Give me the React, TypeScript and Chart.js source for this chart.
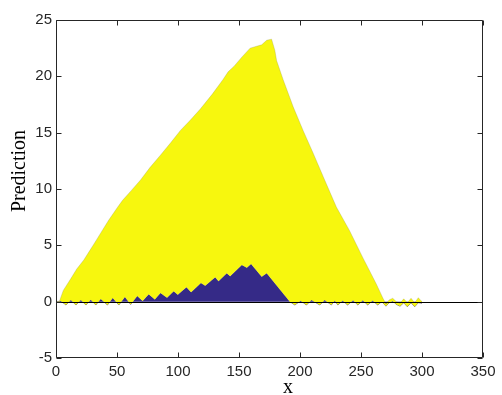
import React, { useEffect, useRef } from "react";
import { Chart, registerables } from "chart.js";

Chart.register(...registerables);

// Upper boundary of the yellow area (total)
const yellowX = [0, 2.7, 6, 12.2, 17, 22.8, 26.9, 31, 36.7, 43, 50.6, 54.6, 62, 69.3, 77, 85.6, 94, 102, 110, 118.3, 128, 136.8, 141.1, 146, 152.3, 159.1, 168.6, 172.7, 176.7, 179.4, 180.8, 186.2, 194.4, 202.5, 210.7, 220.2, 229.8, 240.6, 251.5, 262.4, 268, 270.5, 273, 276, 279, 282, 285, 288, 291, 294, 297, 299, 300];
const yellowY = [0, 0, 1.0, 2.05, 2.9, 3.7, 4.4, 5.1, 6.1, 7.2, 8.4, 9.0, 9.9, 10.8, 11.9, 13.0, 14.1, 15.2, 16.1, 17.1, 18.4, 19.7, 20.4, 20.9, 21.7, 22.5, 22.8, 23.2, 23.3, 22.3, 21.4, 19.7, 17.3, 15.2, 13.2, 10.8, 8.4, 6.3, 3.9, 1.6, 0.3, -0.2, 0.15, 0.3, 0.0, -0.15, 0.25, -0.1, 0.3, -0.1, 0.35, 0.1, 0];

// Blue series
const blueX = [0, 4, 8.2, 12.2, 16.3, 20.4, 24.5, 28.5, 32.6, 36.7, 42.2, 46.5, 51.5, 56.5, 61.2, 66.6, 71, 76, 81, 85.6, 91, 96.5, 99.8, 106.9, 110.7, 118.8, 122.3, 130.5, 133.2, 140, 142.7, 152.3, 156.4, 159.9, 168.6, 172.7, 191.7, 195.8, 200.5, 205.3, 209.4, 216.2, 220.2, 225.7, 228.5, 231, 235, 239, 243.5, 247.4, 251.5, 255.5, 259.5, 263.7, 267, 270.5, 273, 276, 279, 282, 285, 288, 291, 294, 297, 300];
const blueY = [0, 0.05, -0.3, 0.15, -0.3, 0.15, -0.3, 0.18, -0.3, 0.24, -0.3, 0.33, -0.3, 0.42, -0.25, 0.5, 0.05, 0.65, 0.2, 0.77, 0.35, 0.92, 0.62, 1.27, 0.83, 1.66, 1.42, 2.16, 1.81, 2.52, 2.25, 3.26, 3.0, 3.35, 2.22, 2.52, 0, -0.3, 0.08, -0.3, 0.15, -0.3, 0.15, -0.3, 0.1, -0.3, 0.1, -0.3, 0.12, -0.3, 0.12, -0.3, 0.1, -0.3, 0.0, -0.4, -0.1, 0.05, -0.25, -0.4, -0.1, -0.45, -0.1, -0.45, -0.1, -0.15];

const xMin = 0;
const xMax = 350;
const xStep = 50;
const yMin = -5;
const yMax = 25;
const yStep = 5;
const xTitle = "x";
const yTitle = "Prediction";

const AXIS_COLOR = "#262626";

const matlabAxes = {
  id: "matlabAxes",
  afterDatasetsDraw(chart: any) {
    const { ctx, chartArea, scales } = chart;
    const { left, right, top, bottom } = chartArea;
    const xs = scales.x;
    const ys = scales.y;
    ctx.save();
    // baseline at y = 0
    const y0 = Math.round(ys.getPixelForValue(0)) + 0.5;
    ctx.strokeStyle = "#000";
    ctx.lineWidth = 1;
    ctx.beginPath();
    ctx.moveTo(left, y0);
    ctx.lineTo(right, y0);
    ctx.stroke();
    // box
    ctx.strokeStyle = AXIS_COLOR;
    const L = Math.round(left) + 0.5;
    const R = Math.round(right) - 0.5;
    const T = Math.round(top) + 0.5;
    const B = Math.round(bottom) - 0.5;
    ctx.beginPath();
    ctx.rect(L, T, R - L, B - T);
    ctx.stroke();
    // inward ticks
    const tl = 5;
    ctx.beginPath();
    xs.ticks.forEach((t: any) => {
      const px = Math.round(xs.getPixelForValue(t.value)) + 0.5;
      ctx.moveTo(px, B);
      ctx.lineTo(px, B - tl);
      ctx.moveTo(px, T);
      ctx.lineTo(px, T + tl);
    });
    ys.ticks.forEach((t: any) => {
      const py = Math.round(ys.getPixelForValue(t.value)) + 0.5;
      ctx.moveTo(L, py);
      ctx.lineTo(L + tl, py);
      ctx.moveTo(R, py);
      ctx.lineTo(R - tl, py);
    });
    ctx.stroke();
    // titles
    ctx.fillStyle = "#000";
    ctx.font = '20px "Liberation Serif", "Times New Roman", serif';
    ctx.textAlign = "center";
    ctx.textBaseline = "alphabetic";
    ctx.fillText(xTitle, 288, 393);
    ctx.translate(25, 171);
    ctx.rotate(-Math.PI / 2);
    ctx.fillText(yTitle, 0, 0);
    ctx.restore();
  },
};

export default function App() {
  const canvasRef = useRef<HTMLCanvasElement | null>(null);

  useEffect(() => {
    if (!canvasRef.current) return;
    const chart = new Chart(canvasRef.current, {
      type: "line",
      data: {
        datasets: [
          {
            label: "blue",
            data: blueX.map((x, i) => ({ x, y: blueY[i] })),
            borderColor: "#352a87",
            backgroundColor: "#352a87",
            borderWidth: 0.5,
            pointRadius: 0,
            fill: "origin",
            tension: 0,
            order: 2,
          },
          {
            label: "yellow",
            data: yellowX.map((x, i) => ({ x, y: yellowY[i] })),
            borderColor: "rgba(150,150,70,0.6)",
            backgroundColor: "#f7f70e",
            borderWidth: 0.5,
            pointRadius: 0,
            fill: "-1",
            tension: 0,
            order: 1,
          },
        ],
      },
      options: {
        animation: false,
        responsive: false,
        devicePixelRatio: 1,
        layout: { padding: { top: 20, right: 19, left: 0, bottom: 0 } },
        plugins: {
          legend: { display: false },
          tooltip: { enabled: false },
          filler: { propagate: false },
        },
        scales: {
          x: {
            type: "linear",
            min: xMin,
            max: xMax,
            grid: { display: false, drawTicks: false },
            border: { display: false },
            ticks: {
              stepSize: xStep,
              color: AXIS_COLOR,
              padding: 5,
              maxRotation: 0,
              font: { family: '"Liberation Sans", Arial, sans-serif', size: 15 },
            },
            afterFit: (s: any) => {
              s.height = 37;
            },
          },
          y: {
            type: "linear",
            min: yMin,
            max: yMax,
            grid: { display: false, drawTicks: false },
            border: { display: false },
            ticks: {
              stepSize: yStep,
              color: AXIS_COLOR,
              padding: 4,
              font: { family: '"Liberation Sans", Arial, sans-serif', size: 15 },
            },
            afterFit: (s: any) => {
              s.width = 56;
            },
          },
        },
      },
      plugins: [matlabAxes],
    });
    return () => chart.destroy();
  }, []);

  return (
    <div style={{ position: "fixed", left: 0, top: 0, width: 502, height: 395, background: "#fff" }}>
      <canvas ref={canvasRef} width={502} height={395} style={{ display: "block" }} />
    </div>
  );
}
